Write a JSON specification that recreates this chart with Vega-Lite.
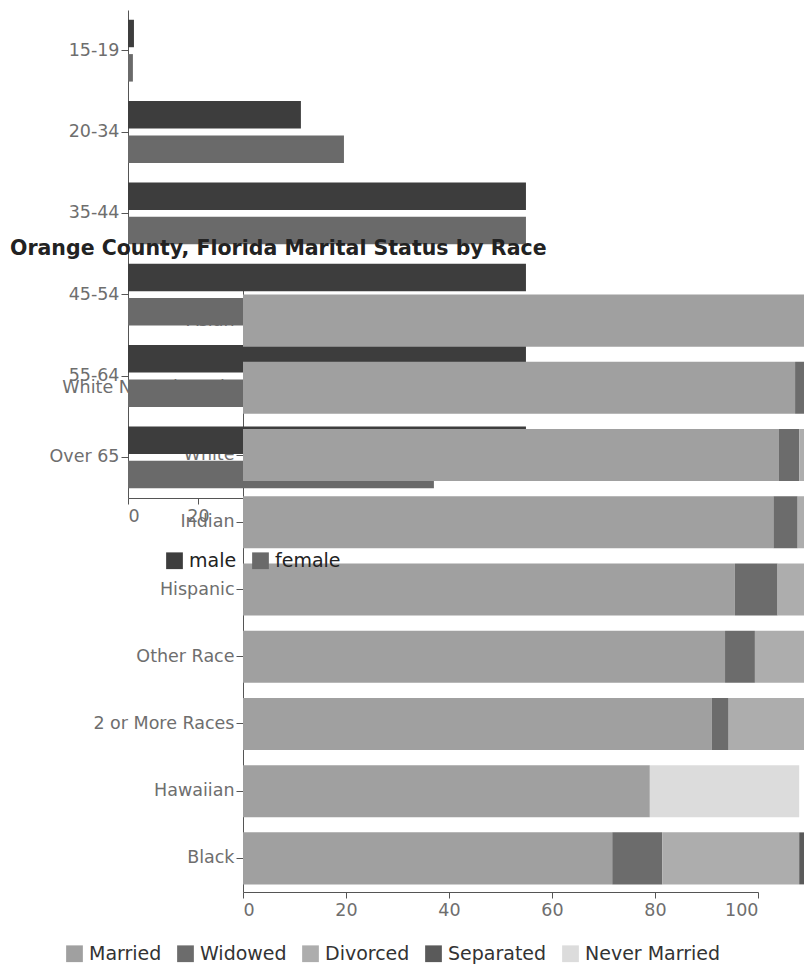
{
  "$schema": "https://vega.github.io/schema/vega-lite/v6.json",
  "autosize": {"type": "none"},
  "padding": {"left": 128, "top": 10, "right": 0, "bottom": 76},
  "width": 676,
  "height": 882,
  "background": "white",
  "title": {
    "text": "Orange County, Florida Marital Status by Race",
    "anchor": "start",
    "frame": "group",
    "dx": -118,
    "dy": 253,
    "fontSize": 20.5,
    "fontWeight": "bold",
    "color": "#222222",
    "font": "DejaVu Sans"
  },
  "config": {
    "font": "DejaVu Sans",
    "view": {"stroke": null},
    "axis": {
      "labelFont": "DejaVu Sans",
      "labelFontSize": 17.5,
      "labelColor": "#6e6e6e",
      "domainColor": "#555555",
      "tickColor": "#555555",
      "grid": false,
      "title": null
    },
    "axisY": {"tickSize": 7, "labelPadding": 2},
    "axisX": {"tickSize": 6, "labelPadding": 3},
    "legend": {
      "labelFont": "DejaVu Sans",
      "labelFontSize": 19,
      "labelColor": "#333333",
      "symbolType": "square",
      "symbolSize": 280,
      "symbolStrokeWidth": 0,
      "columnPadding": 14,
      "labelOffset": 5
    }
  },
  "datasets": {
    "ages": [
      {"age": "15-19", "sex": "male", "value": 1.7},
      {"age": "15-19", "sex": "female", "value": 1.4},
      {"age": "20-34", "sex": "male", "value": 49.4},
      {"age": "20-34", "sex": "female", "value": 61.7},
      {"age": "35-44", "sex": "male", "value": 113.7},
      {"age": "35-44", "sex": "female", "value": 113.7},
      {"age": "45-54", "sex": "male", "value": 113.7},
      {"age": "45-54", "sex": "female", "value": 113.7},
      {"age": "55-64", "sex": "male", "value": 113.7},
      {"age": "55-64", "sex": "female", "value": 113.7},
      {"age": "Over 65", "sex": "male", "value": 113.7},
      {"age": "Over 65", "sex": "female", "value": 87.4}
    ],
    "race": [
      {"race": "Asian", "status": "Married", "rank": 1, "value": 115},
      {"race": "White Non-Hispanic", "status": "Married", "rank": 1, "value": 107.2},
      {"race": "White Non-Hispanic", "status": "Widowed", "rank": 2, "value": 4},
      {"race": "White", "status": "Married", "rank": 1, "value": 104},
      {"race": "White", "status": "Widowed", "rank": 2, "value": 4},
      {"race": "White", "status": "Divorced", "rank": 3, "value": 5},
      {"race": "Indian", "status": "Married", "rank": 1, "value": 103},
      {"race": "Indian", "status": "Widowed", "rank": 2, "value": 4.7},
      {"race": "Indian", "status": "Divorced", "rank": 3, "value": 5},
      {"race": "Hispanic", "status": "Married", "rank": 1, "value": 95.5},
      {"race": "Hispanic", "status": "Widowed", "rank": 2, "value": 8.3},
      {"race": "Hispanic", "status": "Divorced", "rank": 3, "value": 8},
      {"race": "Other Race", "status": "Married", "rank": 1, "value": 93.6},
      {"race": "Other Race", "status": "Widowed", "rank": 2, "value": 5.8},
      {"race": "Other Race", "status": "Divorced", "rank": 3, "value": 12},
      {"race": "2 or More Races", "status": "Married", "rank": 1, "value": 91},
      {"race": "2 or More Races", "status": "Widowed", "rank": 2, "value": 3.3},
      {"race": "2 or More Races", "status": "Divorced", "rank": 3, "value": 15},
      {"race": "Hawaiian", "status": "Married", "rank": 1, "value": 79},
      {"race": "Hawaiian", "status": "Never Married", "rank": 5, "value": 29},
      {"race": "Black", "status": "Married", "rank": 1, "value": 71.7},
      {"race": "Black", "status": "Widowed", "rank": 2, "value": 9.7},
      {"race": "Black", "status": "Divorced", "rank": 3, "value": 26.6},
      {"race": "Black", "status": "Separated", "rank": 4, "value": 1.5},
      {"race": "Black", "status": "Never Married", "rank": 5, "value": 5}
    ]
  },
  "layer": [
    {
      "data": {"name": "ages"},
      "mark": {"type": "bar"},
      "encoding": {
        "y": {
          "field": "age",
          "type": "nominal",
          "sort": ["15-19", "20-34", "35-44", "45-54", "55-64", "Over 65"],
          "scale": {"range": [0, 488], "paddingInner": 0.24, "paddingOuter": 0.12},
          "axis": {"orient": "left", "offset": 0}
        },
        "yOffset": {
          "field": "sex",
          "type": "nominal",
          "sort": ["male", "female"],
          "scale": {"paddingInner": 0.2}
        },
        "x": {
          "field": "value",
          "type": "quantitative",
          "scale": {"domain": [0, 114], "range": [0, 399], "nice": false},
          "axis": {"orient": "bottom", "offset": -394, "values": [0, 20, 40, 60, 80, 100]}
        },
        "color": {
          "field": "sex",
          "type": "nominal",
          "sort": ["male", "female"],
          "scale": {"domain": ["male", "female"], "range": ["#3d3d3d", "#6a6a6a"]},
          "legend": {"orient": "none", "legendX": 37, "legendY": 541, "direction": "horizontal", "title": null, "labelColor": "#222222"}
        }
      }
    },
    {
      "data": {"name": "race"},
      "mark": {"type": "bar"},
      "encoding": {
        "y": {
          "field": "race",
          "type": "nominal",
          "sort": ["Asian", "White Non-Hispanic", "White", "Indian", "Hispanic", "Other Race", "2 or More Races", "Hawaiian", "Black"],
          "scale": {"range": [277, 882], "paddingInner": 0.226, "paddingOuter": 0.113},
          "axis": {"orient": "left", "offset": -115}
        },
        "x": {
          "field": "value",
          "type": "quantitative",
          "stack": "zero",
          "scale": {"domain": [0, 100], "range": [115, 630], "nice": false},
          "axis": {"orient": "bottom", "offset": 0, "values": [0, 20, 40, 60, 80, 100]}
        },
        "order": {"field": "rank", "type": "quantitative", "sort": "ascending"},
        "color": {
          "field": "status",
          "type": "nominal",
          "sort": ["Married", "Widowed", "Divorced", "Separated", "Never Married"],
          "scale": {
            "domain": ["Married", "Widowed", "Divorced", "Separated", "Never Married"],
            "range": ["#a0a0a0", "#6c6c6c", "#adadad", "#5a5a5a", "#dcdcdc"]
          },
          "legend": {"orient": "none", "legendX": -63, "legendY": 934, "direction": "horizontal", "title": null}
        }
      }
    }
  ],
  "resolve": {
    "scale": {"x": "independent", "y": "independent", "color": "independent"},
    "axis": {"x": "independent", "y": "independent"},
    "legend": {"color": "independent"}
  }
}
